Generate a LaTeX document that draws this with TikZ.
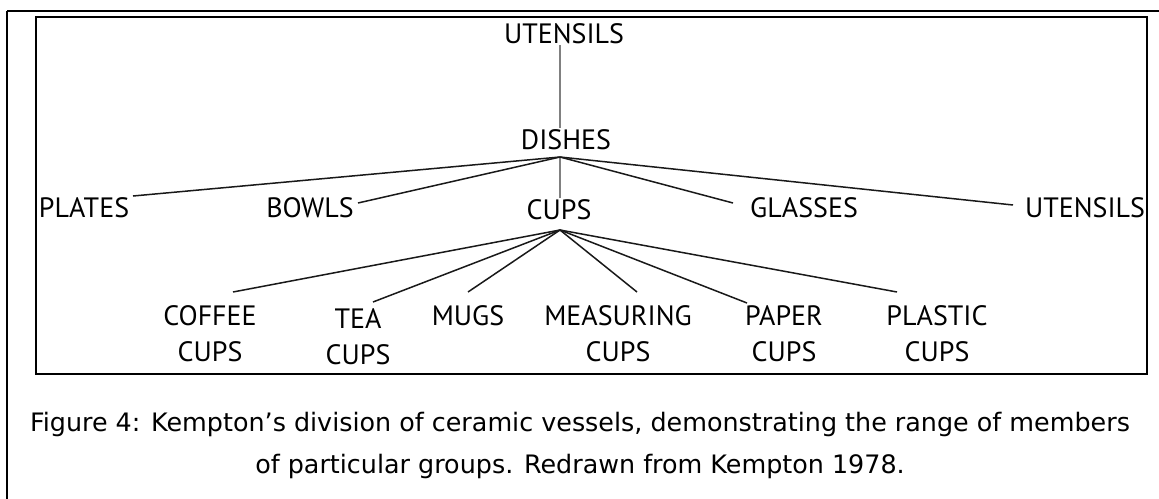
\documentclass[tikz,border=0pt]{standalone}
\usepackage{fontspec}
\setmainfont{PT Sans}
\newfontfamily\capfont{DejaVu Sans}
\begin{document}
\begin{tikzpicture}[x=1pt,y=-1pt,
  lbl/.style={anchor=north,inner sep=0pt,outer sep=0pt,align=center,text=black,
    font=\fontsize{28}{36}\selectfont},
  branch/.style={draw=black!90,line width=1.5pt},
  stem/.style={draw=black!50,line width=2.4pt},
  captxt/.style={inner sep=0pt,anchor=base,font=\capfont\fontsize{25.4}{30}\selectfont}]
\useasboundingbox (0,0) rectangle (1159,498);
\fill[white] (0,0) rectangle (1159,498);
% frames
\draw[line width=2.7pt] (7,11) -- (1175,11);
\draw[line width=2.7pt] (7,11) -- (7,510);
\draw[line width=2pt] (36,17) rectangle (1147,374);
% nodes
\node[lbl] (top) at (564,24) {UTENSILS};
\node[lbl] (dishes) at (566,130) {DISHES};
\node[lbl] (plates) at (84,198) {PLATES};
\node[lbl] (bowls) at (310,198) {BOWLS};
\node[lbl] (cups) at (559,200) {CUPS};
\node[lbl] (glasses) at (804,198) {GLASSES};
\node[lbl] (utensils) at (1085,198) {UTENSILS};
\node[lbl] (coffee) at (210,306) {COFFEE\\CUPS};
\node[lbl] (tea) at (358,309) {TEA\\CUPS};
\node[lbl] (mugs) at (468,306) {MUGS};
\node[lbl] (measuring) at (618,306) {MEASURING\\CUPS};
\node[lbl] (paper) at (784,306) {PAPER\\CUPS};
\node[lbl] (plastic) at (937,306) {PLASTIC\\CUPS};
% connector points
\coordinate (topb) at (560,45);
\coordinate (dtop) at (560,128);
\coordinate (dfan) at (560,157);
\coordinate (ctop) at (560,198);
\coordinate (cfan) at (560,230);
\coordinate (plE) at (133,196);
\coordinate (boE) at (358,203);
\coordinate (glE) at (733,203);
\coordinate (utE) at (1013,205);
\coordinate (coE) at (233,292);
\coordinate (teE) at (373,302);
\coordinate (muE) at (468,292);
\coordinate (meE) at (637,292);
\coordinate (paE) at (747,303);
\coordinate (psE) at (897,292);
% stem
\draw[stem] (topb) -- (dtop);
\draw[stem] (dfan) -- (ctop);
% branches
\draw[branch] (dfan) -- (plE);
\draw[branch] (dfan) -- (boE);
\draw[branch] (dfan) -- (glE);
\draw[branch] (dfan) -- (utE);
\draw[branch] (cfan) -- (coE);
\draw[branch] (cfan) -- (teE);
\draw[branch] (cfan) -- (muE);
\draw[branch] (cfan) -- (meE);
\draw[branch] (cfan) -- (paE);
\draw[branch] (cfan) -- (psE);
% caption
\node[captxt] (cap1) at (580,431) {Figure 4: Kempton’s division of ceramic vessels, demonstrating the range of members};
\node[captxt] (cap2) at (580,473) {of particular groups. Redrawn from Kempton 1978.};
\end{tikzpicture}
\end{document}
